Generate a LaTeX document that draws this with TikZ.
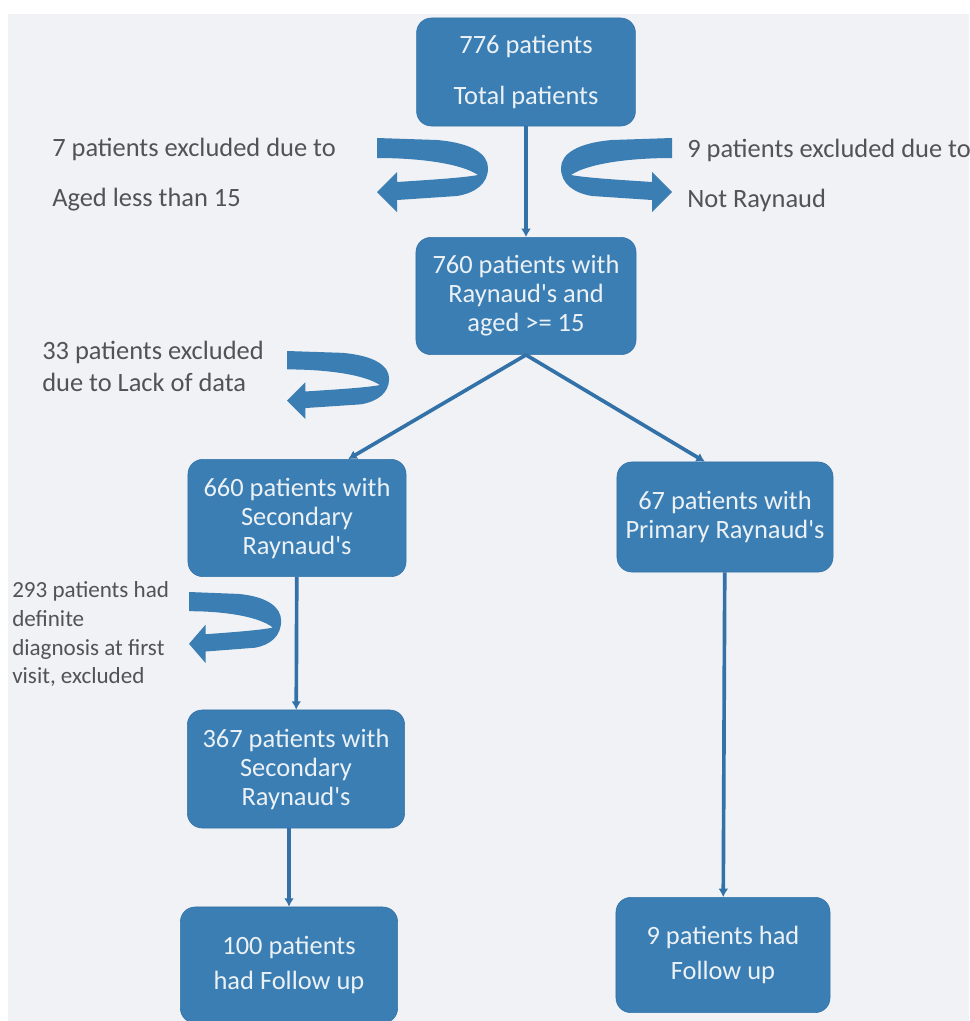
\documentclass[tikz,border=0pt]{standalone}
\usepackage{fontspec}
\setmainfont{Carlito}
\usetikzlibrary{arrows.meta}
\definecolor{boxblue}{RGB}{58,126,180}
\definecolor{lineblue}{RGB}{50,114,168}
\definecolor{boxtext}{RGB}{236,241,246}
\definecolor{greytext}{RGB}{82,82,88}
\definecolor{paper}{RGB}{241,242,245}

\begin{document}
\begin{tikzpicture}[x=0.025cm, y=-0.025cm,
            box/.style={draw=lineblue, fill=boxblue, rounded corners=0.37cm, text=boxtext, align=center, inner sep=0pt, font=\fontsize{18.8}{20.6}\selectfont},
            note/.style={text=greytext, align=left, anchor=west, inner sep=0pt, font=\fontsize{18.8}{20.6}\selectfont},
            link/.style={draw=lineblue, line width=2.6pt, -{Latex[length=6pt,width=7pt]}},
            uturn/.pic={\fill[boxblue] (0,0) -- (60,2) .. controls (95,5) and (111,16) .. (111,30)
                .. controls (111,46) and (98,55) .. (80,58) -- (20,62) -- (20,74) -- (0,54) -- (20,34) -- (20,44)
                .. controls (50,42) and (85,40) .. (101,37) .. controls (85,26) and (45,20) .. (0,20) -- cycle;}]
            \useasboundingbox (0, 0) rectangle (969, 1021);
            \clip (0, 0) rectangle (969, 1021);
            \fill[white] (0, 0) rectangle (969, 1021);
            \fill[paper] (8, 14) rectangle (969, 1021);
            \draw (526, 72) node[box, minimum width=5.47cm, minimum height=2.7cm](top){776 patients\\[15pt]Total patients};
            \draw (526, 296) node[box, minimum width=5.5cm, minimum height=2.93cm](mid){760 patients with\\Raynaud\textquotesingle s and\\aged >= 15};
            \draw (297, 518) node[box, minimum width=5.45cm, minimum height=2.93cm](sec){660 patients with\\Secondary\\Raynaud\textquotesingle s};
            \draw (725, 517) node[box, minimum width=5.4cm, minimum height=2.75cm](prim){67 patients with\\Primary Raynaud\textquotesingle s};
            \draw (296, 769) node[box, minimum width=5.43cm, minimum height=2.95cm](sec2){367 patients with\\Secondary\\Raynaud\textquotesingle s};
            \draw (289, 965) node[box, minimum width=5.43cm, minimum height=2.9cm](fu100){100 patients\\[4pt]had Follow up};
            \draw (723, 955) node[box, minimum width=5.35cm, minimum height=2.88cm](fu9){9 patients had\\[4pt]Follow up};
            \draw[link] (top) -- (mid);
            \draw[link] (mid.south) -- (sec.49);
            \draw[link] (mid.south) -- (prim.110);
            \draw[link] (sec) -- (sec2);
            \draw[link] (sec2.south -| fu100.north) -- (fu100.north);
            \draw[link] (prim) -- (fu9);
            % exclusions
            \draw (52, 175) node[note](agenote){7 patients excluded due to\\[15pt]Aged less than 15};
            \draw (687, 175) node[note](raynote){9 patients excluded due to\\[15pt]Not Raynaud};
            \draw (42, 366) node[note, font=\fontsize{18.8}{22.8}\selectfont](datanote){33 patients excluded\\due to Lack of data};
            \draw (12, 634) node[note, font=\fontsize{16.4}{20.6}\selectfont](diagnote){293 patients had\\definite\\diagnosis at first\\visit, excluded};
            \pic at (377, 138) {uturn};
            \pic[xscale=-1] at (672, 138) {uturn};
            \pic[scale=0.92] at (287, 351) {uturn};
            \pic[xscale=0.83, yscale=0.96] at (189, 592) {uturn};
        \end{tikzpicture}
\end{document}
